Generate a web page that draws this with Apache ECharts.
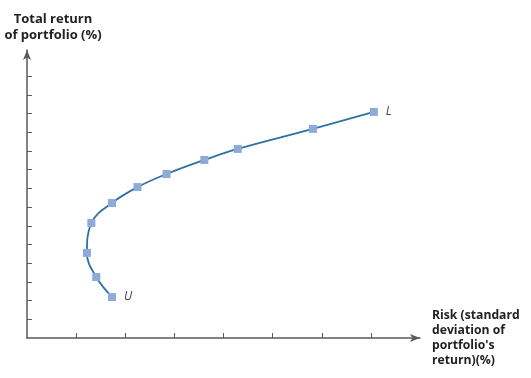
<!DOCTYPE html>
<html>
<head>
<meta charset="utf-8">
<script src="https://cdn.jsdelivr.net/npm/echarts@6/dist/echarts.min.js"></script>
<style>
  html, body { margin: 0; padding: 0; background: #fff; }
  #chart { width: 531px; height: 378px; }
</style>
</head>
<body>
<div id="chart"></div>
<script>
// points along the curve, from U (bottom) to L (top right)
const riskValues = [1.73, 1.41, 1.22, 1.31, 1.73, 2.25, 2.84, 3.61, 4.29, 5.82, 7.06];
const returnValues = [2.19, 3.26, 4.55, 6.15, 7.22, 8.07, 8.77, 9.52, 10.11, 11.18, 12.09];
const pointLabels = ['U', '', '', '', '', '', '', '', '', '', 'L'];
const xTicks = [1, 2, 3, 4, 5, 6, 7];
const yTicks = [1, 2, 3, 4, 5, 6, 7, 8, 9, 10, 11, 12, 13, 14];

const chart = echarts.init(document.getElementById('chart'));

const seriesData = riskValues.map((x, i) => {
  const item = { value: [x, returnValues[i]] };
  if (pointLabels[i]) {
    item.label = { show: true, formatter: pointLabels[i] };
  }
  return item;
});

const axisColor = '#5a5a5a';
const fontFamily = '"Open Sans", "DejaVu Sans", sans-serif';

const option = {
  animation: false,
  grid: {
    left: 27, right: 111, top: 50, bottom: 40,
    containLabel: false,
    outerBoundsMode: 'none'
  },
  xAxis: {
    type: 'value',
    min: 0,
    max: 8,
    interval: 1,
    name: "Risk (standard\ndeviation of\nportfolio's\nreturn)(%)",
    nameLocation: 'end',
    nameGap: 12,
    nameTextStyle: {
      color: '#222',
      fontFamily: fontFamily,
      fontWeight: 'bold',
      fontSize: 12.2,
      lineHeight: 15,
      align: 'left',
      verticalAlign: 'middle'
    },
    splitLine: { show: false },
    axisLabel: { show: false },
    axisLine: {
      lineStyle: { color: axisColor, width: 1.5 },
      symbol: ['none', 'arrow'],
      symbolSize: [6, 10]
    },
    axisTick: {
      inside: true,
      length: 5,
      customValues: xTicks,
      lineStyle: { color: axisColor, width: 1 }
    }
  },
  yAxis: {
    type: 'value',
    min: 0,
    max: 15.4,
    interval: 1,
    name: 'Total return\nof portfolio (%)',
    nameLocation: 'end',
    nameGap: 7,
    nameTextStyle: {
      color: '#222',
      fontFamily: fontFamily,
      fontWeight: 'bold',
      fontSize: 13,
      lineHeight: 16,
      align: 'center',
      padding: [0, 0, 0, 52]
    },
    splitLine: { show: false },
    axisLabel: { show: false },
    axisLine: {
      lineStyle: { color: axisColor, width: 1.5 },
      symbol: ['none', 'arrow'],
      symbolSize: [6, 10]
    },
    axisTick: {
      inside: true,
      length: 5,
      customValues: yTicks,
      lineStyle: { color: axisColor, width: 1 }
    }
  },
  series: [
    {
      type: 'line',
      data: seriesData,
      smooth: 0.4,
      symbol: 'rect',
      symbolSize: 8,
      lineStyle: { color: '#2f71a3', width: 1.8 },
      itemStyle: { color: '#8eaad8' },
      label: {
        show: false,
        position: 'right',
        distance: 8,
        color: '#444',
        fontStyle: 'italic',
        fontFamily: fontFamily,
        fontSize: 12
      }
    }
  ]
};

chart.setOption(option);
</script>
</body>
</html>
